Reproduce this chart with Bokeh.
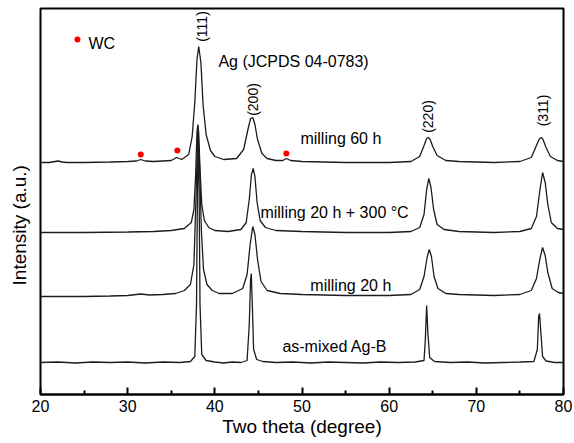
import math
from bokeh.plotting import figure
from bokeh.models import Range1d, FixedTicker, Label
from bokeh.embed import file_html
from bokeh.resources import INLINE

t1_x = [20, 21, 22, 22.5, 23, 25, 28, 30, 31, 31.5, 32, 33, 35, 35.6, 36.2, 37.0, 37.4, 37.7, 37.95, 38.15,
        38.4, 38.65, 39.0, 39.5, 40, 41, 42.5, 43.3, 43.8, 44.1, 44.35, 44.6, 44.9, 45.4, 46, 47, 47.8, 48.2,
        48.7, 50, 55, 60, 62.5, 63.5, 64.0, 64.3, 64.5, 64.7, 65.0, 65.5, 66.5, 68, 72, 75, 76.3, 76.9, 77.25,
        77.45, 77.65, 78.0, 78.5, 79.3, 80]
t1_y = [232, 232, 233.5, 232.5, 232, 232, 232.5, 233, 233.5, 235, 233.5, 233, 234, 237, 235, 240, 258, 292, 335, 348,
        332, 290, 260, 244, 238, 235, 236, 245, 265, 276, 277, 270, 255, 241, 236, 234, 234, 236,
        234, 233, 232, 232, 233, 238, 249, 256, 257, 255, 248, 239, 234, 233, 232, 233, 237, 249, 256,
        257, 255, 247, 238, 234, 233]

t2_x = [20, 25, 30, 33, 35, 36.5, 37.3, 37.6, 37.8, 37.95, 38.05, 38.15, 38.3, 38.5, 38.8, 39.3, 40, 41.5, 43, 43.6,
        43.95, 44.2, 44.4, 44.6, 44.85, 45.2, 45.8, 47, 50, 55, 60, 62.5, 63.5, 64.0, 64.3, 64.55, 64.8, 65.1,
        65.5, 66.3, 68, 72, 75, 76.3, 76.9, 77.3, 77.6, 77.9, 78.2, 78.6, 79.3, 80]
t2_y = [162, 162, 162.5, 163, 164, 166, 172, 185, 220, 262, 270, 262, 225, 190, 174, 167, 164, 163, 165, 172,
        195, 220, 226, 218, 192, 174, 167, 164, 163, 162, 162, 163, 167, 180, 205, 216, 207, 185,
        170, 165, 163, 162, 163, 166, 178, 205, 222, 212, 190, 172, 166, 165]

t3_x = [20, 25, 28, 30, 31.5, 32.5, 34, 35.5, 36.5, 37.2, 37.6, 37.85, 38.05, 38.25, 38.45, 38.7, 39.1, 39.7, 40.5,
        42, 43.2, 43.7, 44.05, 44.35, 44.6, 44.9, 45.3, 46, 47.5, 50, 55, 60, 62.5, 63.5, 64.0, 64.35, 64.6,
        64.85, 65.15, 65.6, 66.5, 68, 72, 75, 76.3, 76.9, 77.3, 77.6, 77.9, 78.2, 78.7, 79.4, 80]
t3_y = [98, 98, 98.5, 99, 100.5, 99.5, 100, 101, 104, 110, 130, 200, 267, 230, 165, 125, 110, 104, 101,
        101, 106, 120, 150, 168, 160, 135, 113, 104, 101, 100, 99, 99, 100, 105, 118, 137, 145,
        138, 118, 106, 101, 100, 99, 100, 104, 116, 136, 147, 139, 122, 106, 102, 101]

t4_x = [20, 22, 24, 26, 28, 30, 32, 34, 36, 37.2, 37.7, 37.9, 38.0, 38.1, 38.2, 38.3, 38.5, 39, 40, 41, 42, 43,
        43.7, 43.95, 44.1, 44.18, 44.3, 44.45, 44.8, 45.5, 47, 49, 51, 53, 55, 57, 59, 61, 63, 64.0, 64.15,
        64.3, 64.45, 64.65, 65.2, 67, 69, 71, 73, 75, 76.6, 77.0, 77.15, 77.25, 77.38, 77.6, 78, 79, 80]
t4_y = [32, 32.5, 31.5, 32.5, 32, 32.5, 31.5, 32.5, 32, 33, 38, 90, 200, 268, 200, 90, 40, 34, 32.5, 31.5, 32.5, 32,
        34, 70, 115, 121, 90, 45, 35, 33, 32, 32.5, 31.5, 32.5, 32, 31.5, 32.5, 32, 32.5, 34, 55,
        89, 60, 37, 33, 32, 32.5, 31.5, 32, 32.5, 33, 45, 78, 81, 65, 38, 33.5, 32, 32]

wc_x = [31.5, 35.7, 48.2]
wc_y = [240, 244, 241]

x_ticks = [20, 30, 40, 50, 60, 70, 80]
x_minor = [25, 35, 45, 55, 65, 75]

FONT = "Liberation Sans"

p = figure(width=574, height=443, output_backend="svg", toolbar_location=None,
           x_range=Range1d(20, 80), y_range=Range1d(0, 386),
           min_border_left=40, min_border_right=11, min_border_top=8, min_border_bottom=49)
p.background_fill_color = "white"
p.border_fill_color = "white"
p.outline_line_color = "black"
p.outline_line_width = 2
p.xgrid.visible = False
p.ygrid.visible = False

ax = p.xaxis[0]
ax.ticker = FixedTicker(ticks=x_ticks, minor_ticks=x_minor)
ax.axis_line_width = 2
ax.major_tick_in = 7
ax.major_tick_out = 0
ax.minor_tick_in = 4
ax.minor_tick_out = 0
ax.major_tick_line_width = 2
ax.minor_tick_line_width = 2
ax.major_label_text_font = FONT
ax.major_label_text_font_size = "16px"
ax.major_label_text_color = "black"
ax.major_label_standoff = 5
ax.axis_label = "Two theta (degree)"
ax.axis_label_text_font = FONT
ax.axis_label_text_font_size = "19px"
ax.axis_label_text_font_style = "normal"
ax.axis_label_text_color = "black"
ax.axis_label_standoff = 1

ay = p.yaxis[0]
ay.ticker = FixedTicker(ticks=[])
ay.axis_line_color = None
ay.major_tick_line_color = None
ay.minor_tick_line_color = None
ay.major_label_standoff = 0
ay.axis_label = "Intensity (a.u.)" + "\u00a0" * 9
ay.axis_label_text_font = FONT
ay.axis_label_text_font_size = "19px"
ay.axis_label_text_font_style = "normal"
ay.axis_label_text_color = "black"
ay.axis_label_standoff = 11

lc = "#1c1c1c"
for xs, ys in [(t1_x, t1_y), (t2_x, t2_y), (t3_x, t3_y), (t4_x, t4_y)]:
    p.line(xs, ys, line_color=lc, line_width=1.3)

p.scatter(wc_x, wc_y, size=6, color="red", line_color=None)
p.scatter([24.24], [355], size=6, color="red", line_color=None)

def lab(x, y, t, size="16px", angle=0.0, align="left"):
    p.add_layout(Label(x=x, y=y, text=t, text_font=FONT, text_font_size=size, angle=angle,
                       text_align=align, text_baseline="middle", text_color="black"))

lab(25.5, 351, "WC")
lab(40.41, 333, "Ag (JCPDS 04-0783)")
lab(49.82, 256, "milling 60 h")
lab(45.23, 182, "milling 20 h + 300  \u00b0C")
lab(50.96, 109, "milling 20 h")
lab(47.75, 48, "as-mixed Ag-B")

lab(38.5, 368, "(111)", "14px", math.pi / 2, "center")
lab(44.4, 295, "(200)", "14px", math.pi / 2, "center")
lab(64.5, 278, "(220)", "14px", math.pi / 2, "center")
lab(77.6, 284, "(311)", "14px", math.pi / 2, "center")

open("out.html", "w").write(file_html(p, INLINE))
